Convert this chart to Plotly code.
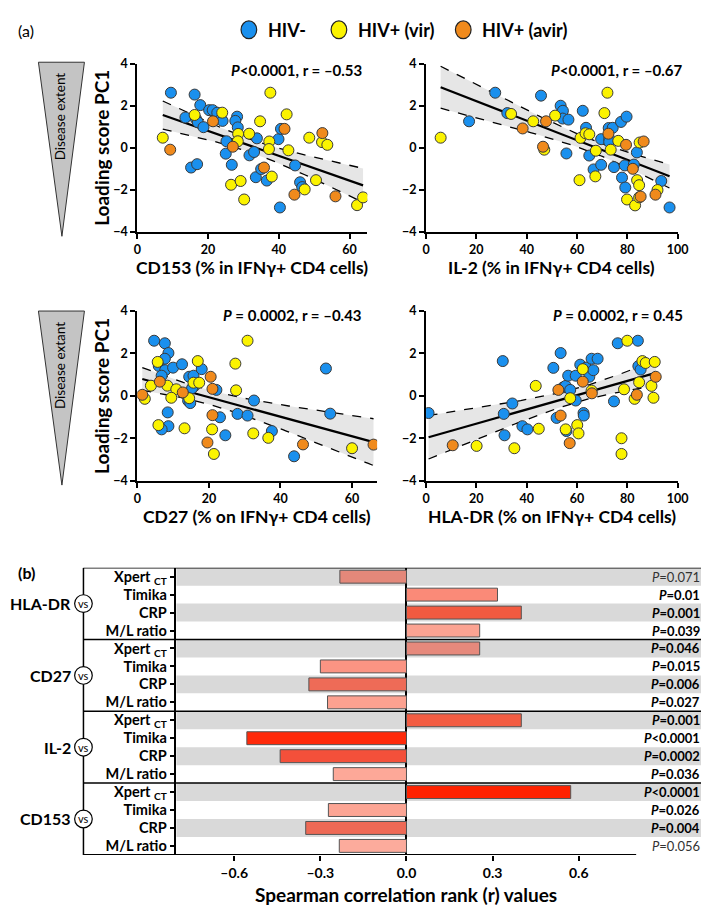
import numpy as np
import plotly.graph_objects as go

# ---------------- DATA ----------------
# Panel 1: CD153 (% in IFNγ+ CD4 cells) vs Loading score PC1
cd153_neg_x = [9.5,16.2,17.8,13.6,16.6,17.1,18.7,20.3,21.3,22.6,23.7,24.1,28.2,27.7,28.4,25.2,25.0,26.7,15.2,16.9,31.7,33.0,33.8,33.5,35.0,36.6,40.3,39.9,40.6,44.6,46.0,46.6]
cd153_neg_y = [2.62,2.53,2.03,1.44,1.37,1.22,0.98,1.79,1.79,1.67,1.37,1.28,1.48,1.28,0.97,0.31,-0.28,-0.81,-0.94,-0.78,-0.36,-0.20,0.45,-1.40,-1.01,-1.56,-2.84,0.41,0.90,-0.84,-1.64,-1.87]
cd153_vir_x = [7.2,16.2,24.0,28.5,28.4,31.6,34.7,37.6,37.3,37.2,38.0,42.2,42.7,26.5,29.2,30.2,47.3,48.6,50.5,52.2,53.7,62.1,63.8]
cd153_vir_y = [0.48,1.56,1.67,0.66,0.31,0.67,1.26,2.62,0.30,-0.06,-1.37,1.59,-0.12,-1.76,-1.58,-2.46,-1.98,0.48,-1.54,0.27,0.14,-2.73,-2.36]
cd153_avir_x = [9.3,21.4,27.0,35.8,41.6,44.4,52.3,56.0]
cd153_avir_y = [-0.09,1.26,0.05,-0.94,0.90,-2.23,0.70,-2.31]

# Panel 2: IL-2 (% in IFNγ+ CD4 cells)
il2_neg_x = [27.5,45.7,17.1,32.3,53.5,54.4,54.3,56.6,62.3,63.6,55.8,64.9,66.6,69.6,69.6,72.6,72.8,72.8,74.2,74.7,77.5,77.9,79.2,79.0,79.7,83.8,82.6,93.5,96.8]
il2_neg_y = [2.62,2.48,1.26,1.65,2.00,1.76,1.39,1.34,1.76,0.95,-0.27,-0.37,-1.03,0.41,-0.81,0.94,0.44,0.28,0.95,-0.92,1.23,-1.42,-1.89,-0.84,1.48,-0.22,-0.80,-1.58,-2.84]
il2_vir_x = [5.8,33.8,42.6,47.0,51.3,61.0,61.4,63.4,64.9,67.3,67.5,70.9,72.1,73.4,76.4,79.9,83.1,83.9,84.7,84.7,84.9,92.0]
il2_vir_y = [0.48,1.61,1.26,-0.09,1.53,-1.54,0.47,0.69,0.64,-1.36,-0.14,1.65,2.62,-0.09,0.33,-2.46,-2.74,-1.54,-1.78,-2.36,0.25,-2.01]
il2_avir_x = [38.4,46.5,47.7,72.5,79.5,82.2,85.3,86.5,91.2]
il2_avir_y = [0.92,0.05,1.26,0.67,0.14,-1.00,-2.32,0.30,-2.23]

# Panel 3: CD27 (% on IFNγ+ CD4 cells)
cd27_neg_x = [4.7,7.7,8.7,7.7,6.0,7.8,10.0,12.5,6.8,14.5,15.7,16.0,15.3,18.0,22.1,14.2,14.8,8.5,8.7,6.8,23.1,24.6,28.0,30.8,32.6,37.6,43.8,52.7,53.9]
cd27_neg_y = [2.60,2.48,2.02,1.75,1.41,1.21,1.33,1.49,0.95,0.90,0.95,0.47,0.36,1.26,0.28,-0.23,-0.34,-0.78,-1.43,-1.58,-1.01,-1.86,-0.85,-0.93,-0.22,-1.66,-2.85,1.29,-0.84]
cd27_vir_x = [3.8,2.1,5.7,8.4,10.9,9.5,5.9,13.2,14.5,15.7,17.3,16.9,27.4,30.8,27.6,20.9,21.4,32.4,36.6,60.0]
cd27_vir_y = [0.48,-0.14,1.60,0.48,0.31,-0.09,-1.38,-1.53,-0.11,0.62,0.62,1.64,1.52,2.60,0.26,-1.58,-2.74,-1.77,-1.98,-2.47]
cd27_avir_x = [1.4,6.3,12.7,20.5,21.0,21.0,19.6,46.3,66.0]
cd27_avir_y = [0.05,0.67,0.16,0.90,0.33,-0.91,-2.20,-2.29,-2.30]

# Panel 4: HLA-DR (% on IFNγ+ CD4 cells)
hla_neg_x = [1.0,30.5,30.9,31.2,34.3,38.3,40.3,50.6,53.5,51.9,54.5,55.5,56.5,57.3,55.8,59.5,59.5,61.3,63.6,62.6,62.7,64.9,65.8,66.5,68.2,74.7,76.2,84.2,84.4,85.3]
hla_neg_y = [-0.81,1.64,-0.85,-1.86,-0.36,-1.43,-1.58,1.32,2.02,-1.04,0.40,0.47,0.95,0.28,-1.66,0.95,-0.22,1.47,1.33,-0.81,-0.93,0.90,1.75,1.21,1.75,-0.26,2.48,2.60,1.40,1.24]
hla_vir_x = [20.1,35.1,43.6,44.8,55.5,57.3,60.1,60.6,62.3,65.8,77.7,77.7,78.7,80.0,82.9,84.7,86.0,87.3,89.6,90.4,90.9]
hla_vir_y = [-2.36,-2.47,0.47,-1.55,-1.58,-0.11,-1.38,-1.77,1.26,0.25,-2.00,-2.74,0.31,2.60,-0.14,0.64,1.64,1.55,0.47,-0.09,1.60]
hla_avir_x = [10.6,52.6,53.5,57.1,62.3,65.9,83.8,91.3]
hla_avir_y = [-2.33,0.28,-0.93,-2.23,0.67,0.12,0.05,0.90]

group_names = ["HIV-", "HIV+ (vir)", "HIV+ (avir)"]
x_titles = ["CD153 (% in IFNγ+ CD4 cells)", "IL-2 (% in IFNγ+ CD4 cells)",
            "CD27 (% on IFNγ+ CD4 cells)", "HLA-DR (% on IFNγ+ CD4 cells)"]
stat_labels = ["<i>P</i>&lt;0.0001, r = –0.53", "<i>P</i>&lt;0.0001, r = –0.67",
               "<i>P</i> = 0.0002, r = –0.43", "<i>P</i> = 0.0002, r = 0.45"]

# Panel (b): Spearman correlations
section_names = ["HLA-DR", "CD27", "IL-2", "CD153"]
row_labels = ["Xpert <sub>CT</sub>", "Timika", "CRP", "M/L ratio"] * 4
r_values = [-0.232, 0.317, 0.40, 0.255,
            0.255, -0.30, -0.34, -0.275,
            0.40, -0.556, -0.44, -0.255,
            0.572, -0.272, -0.351, -0.234]
p_labels = ["=0.071", "=0.01", "=0.001", "=0.039",
            "=0.046", "=0.015", "=0.006", "=0.027",
            "=0.001", "&lt;0.0001", "=0.0002", "=0.036",
            "&lt;0.0001", "=0.026", "=0.004", "=0.056"]
p_significant = [False, True, True, True,
                 True, True, True, True,
                 True, True, True, True,
                 True, True, True, False]
x_tick_vals = [-0.6, -0.3, 0.0, 0.3, 0.6]
x_tick_text = ["–0.6", "–0.3", "0.0", "0.3", "0.6"]

# ---------------- STYLE ----------------
FONT = "Lato"
W, H = 709, 906
group_colors = ["#1a90ee", "#fbf300", "#f08a1c"]
bar_colors = ["#e4887a", "#fa8a78", "#f25a40", "#fba392",
              "#e6897c", "#fb9483", "#ee6b57", "#fca190",
              "#f35c42", "#ff2a0a", "#f4503a", "#fda898",
              "#ff2200", "#fca594", "#ee6955", "#fcab9c"]

def px(x):
    return x / W

def py(y):
    return 1 - y / H

fig = go.Figure()
shapes = []
annots = []

panels = [
    dict(data=[(cd153_neg_x, cd153_neg_y), (cd153_vir_x, cd153_vir_y), (cd153_avir_x, cd153_avir_y)],
         xd=(128, 363), yd=(48.5, 219.5), xr=[0, 65], xt=[0, 20, 40, 60], ann_x=360, ann_y=55),
    dict(data=[(il2_neg_x, il2_neg_y), (il2_vir_x, il2_vir_y), (il2_avir_x, il2_avir_y)],
         xd=(423, 680), yd=(48.5, 219.5), xr=[0, 100], xt=[0, 20, 40, 60, 80, 100], ann_x=688, ann_y=55),
    dict(data=[(cd27_neg_x, cd27_neg_y), (cd27_vir_x, cd27_vir_y), (cd27_avir_x, cd27_avir_y)],
         xd=(128, 373), yd=(300, 472.5), xr=[0, 67], xt=[0, 20, 40, 60], ann_x=360, ann_y=304),
    dict(data=[(hla_neg_x, hla_neg_y), (hla_vir_x, hla_vir_y), (hla_avir_x, hla_avir_y)],
         xd=(423, 680), yd=(300, 472.5), xr=[0, 100], xt=[0, 20, 40, 60, 80, 100], ann_x=688, ann_y=304),
]

T_CRIT = 1.998
layout_axes = {}
for i, p in enumerate(panels):
    k = i + 1
    xa = "x" if k == 1 else f"x{k}"
    ya = "y" if k == 1 else f"y{k}"
    allx = np.concatenate([np.array(d[0], float) for d in p["data"]])
    ally = np.concatenate([np.array(d[1], float) for d in p["data"]])
    n = len(allx)
    slope, icpt = np.polyfit(allx, ally, 1)
    resid = ally - (slope * allx + icpt)
    s = np.sqrt(np.sum(resid ** 2) / (n - 2))
    xm = allx.mean()
    sxx = np.sum((allx - xm) ** 2)
    xs = np.linspace(allx.min(), allx.max(), 80)
    yfit = slope * xs + icpt
    se = s * np.sqrt(1.0 / n + (xs - xm) ** 2 / sxx)
    up = yfit + T_CRIT * se
    lo = yfit - T_CRIT * se
    fig.add_trace(go.Scatter(x=xs, y=up, mode="lines", xaxis=xa, yaxis=ya, showlegend=False,
                             line=dict(color="black", width=1.3, dash="dash"), hoverinfo="skip"))
    fig.add_trace(go.Scatter(x=xs, y=lo, mode="lines", xaxis=xa, yaxis=ya, showlegend=False,
                             fill="tonexty", fillcolor="#e6e6e6",
                             line=dict(color="black", width=1.3, dash="dash"), hoverinfo="skip"))
    fig.add_trace(go.Scatter(x=xs, y=yfit, mode="lines", xaxis=xa, yaxis=ya, showlegend=False,
                             line=dict(color="black", width=2.2), hoverinfo="skip"))
    for g, (gx, gy) in enumerate(p["data"]):
        fig.add_trace(go.Scatter(x=gx, y=gy, mode="markers", xaxis=xa, yaxis=ya, name=group_names[g],
                                 showlegend=False,
                                 marker=dict(size=11, color=group_colors[g],
                                             line=dict(color="#3a3a3a", width=1))))
    axkey_x = "xaxis" if k == 1 else f"xaxis{k}"
    axkey_y = "yaxis" if k == 1 else f"yaxis{k}"
    layout_axes[axkey_x] = dict(domain=[px(p["xd"][0]), px(p["xd"][1])], range=p["xr"], anchor=ya,
                                tickvals=p["xt"], showline=True, linecolor="black", linewidth=2,
                                ticks="outside", ticklen=5, tickwidth=2, tickcolor="black",
                                tickfont=dict(family=FONT, size=12.5, color="black", weight="bold"),
                                showgrid=False, zeroline=False)
    layout_axes[axkey_y] = dict(domain=[py(p["yd"][1]), py(p["yd"][0])], range=[-4, 4], anchor=xa,
                                tickvals=[-4, -2, 0, 2, 4], showline=True, linecolor="black", linewidth=2,
                                ticks="outside", ticklen=5, tickwidth=2, tickcolor="black",
                                tickfont=dict(family=FONT, size=12.5, color="black", weight="bold"),
                                showgrid=False, zeroline=False)
    # x-axis title
    annots.append(dict(x=px((p["xd"][0] + p["xd"][1]) / 2), y=py(p["yd"][1] + 36), xref="paper", yref="paper",
                       text=x_titles[i], showarrow=False, xanchor="center", yanchor="middle",
                       font=dict(family=FONT, size=17.5, color="black", weight="bold")))
    # stats label
    annots.append(dict(x=px(p["ann_x"]), y=py(p["ann_y"]), xref="paper", yref="paper",
                       text=stat_labels[i], showarrow=False, xanchor="right", yanchor="middle",
                       font=dict(family=FONT, size=15, color="black", weight="bold")))
    if k in (1, 3):
        annots.append(dict(x=px(92), y=py((p["yd"][0] + p["yd"][1]) / 2), xref="paper", yref="paper",
                           text="Loading score PC1", textangle=-90, showarrow=False,
                           xanchor="center", yanchor="middle",
                           font=dict(family=FONT, size=19, color="black", weight="bold")))

# Disease extent triangles
for (top, bot, label) in [(47, 224, "Disease extent"), (300, 477, "Disease extant")]:
    shapes.append(dict(type="path", xref="paper", yref="paper",
                       path=f"M {px(27)},{py(top)} L {px(74)},{py(top)} L {px(51)},{py(bot)} Z",
                       fillcolor="#c4c4c4", line=dict(color="#333", width=1)))
    annots.append(dict(x=px(49), y=py(top + 55), xref="paper", yref="paper", text=label,
                       textangle=-90, showarrow=False, xanchor="center", yanchor="middle",
                       font=dict(family=FONT, size=13.5, color="black")))

# Legend (drawn manually)
for (cx, tx, g) in [(242, 259, 0), (334, 351, 1), (461, 478, 2)]:
    shapes.append(dict(type="circle", xref="paper", yref="paper",
                       x0=px(cx - 8), x1=px(cx + 8), y0=py(14 + 9), y1=py(14 - 9),
                       fillcolor=group_colors[g], line=dict(color="#222", width=1.2)))
    annots.append(dict(x=px(tx), y=py(14), xref="paper", yref="paper", text=group_names[g],
                       showarrow=False, xanchor="left", yanchor="middle",
                       font=dict(family=FONT, size=18, color="black", weight="bold")))

annots.append(dict(x=px(4), y=py(15), xref="paper", yref="paper", text="(a)", showarrow=False,
                   xanchor="left", yanchor="middle", font=dict(family=FONT, size=16, color="black")))
annots.append(dict(x=px(4), y=py(566), xref="paper", yref="paper", text="(b)", showarrow=False,
                   xanchor="left", yanchor="middle",
                   font=dict(family=FONT, size=16, color="black", weight="bold")))

# ---------------- Panel (b) ----------------
B_TOP, B_BOT = 561, 853
B_LEFT, B_RIGHT = 168, 708
ZERO_PX, UNIT_PX = 403, 293.3
n_rows = len(r_values)
rows = list(range(n_rows))
row_h = (B_BOT - B_TOP) / n_rows

fig.add_trace(go.Bar(x=r_values, y=rows, orientation="h", xaxis="x5", yaxis="y5", width=0.72,
                     marker=dict(color=bar_colors, line=dict(color="#555", width=1)),
                     showlegend=False))

layout_axes["xaxis5"] = dict(domain=[px(B_LEFT), px(B_RIGHT)],
                             range=[(B_LEFT - ZERO_PX) / UNIT_PX, (B_RIGHT - ZERO_PX) / UNIT_PX],
                             anchor="y5", tickvals=x_tick_vals, ticktext=x_tick_text,
                             ticks="outside", ticklen=5, tickwidth=1.5, tickcolor="black",
                             showline=False, showgrid=False, zeroline=True, zerolinecolor="black",
                             zerolinewidth=1.5,
                             tickfont=dict(family=FONT, size=14, color="black", weight="bold"))
layout_axes["yaxis5"] = dict(domain=[py(B_BOT), py(B_TOP)], range=[n_rows - 0.5, -0.5], anchor="x5",
                             tickvals=rows, ticktext=row_labels, ticks="outside", ticklen=5,
                             tickwidth=1.5, tickcolor="black", showline=True, linecolor="black",
                             linewidth=1.5, showgrid=False, zeroline=False,
                             tickfont=dict(family=FONT, size=14.5, color="black", weight="bold"))

for i in rows:
    if i % 2 == 0:
        shapes.append(dict(type="rect", xref="paper", yref="y5", x0=px(B_LEFT), x1=px(B_RIGHT),
                           y0=i - 0.5, y1=i + 0.5, fillcolor="#d9d9d9", line=dict(width=0),
                           layer="below"))
# separators and frame
for yb in [-0.5, 3.5, 7.5, 11.5]:
    shapes.append(dict(type="line", xref="paper", yref="y5", x0=px(73), x1=px(B_RIGHT), y0=yb, y1=yb,
                       line=dict(color="black", width=1.5)))
shapes.append(dict(type="line", xref="paper", yref="y5", x0=px(73), x1=px(ZERO_PX + 0.8 * UNIT_PX),
                   y0=n_rows - 0.5, y1=n_rows - 0.5, line=dict(color="black", width=1.8)))
shapes.append(dict(type="line", xref="paper", yref="y5", x0=px(73), x1=px(73), y0=-0.5,
                   y1=n_rows - 0.5, line=dict(color="black", width=1.5)))

# section labels with "vs" circles
for s_i, name in enumerate(section_names):
    yc_px = B_TOP + (4 * s_i + 2) * row_h
    annots.append(dict(x=px(62), y=py(yc_px), xref="paper", yref="paper", text=name, showarrow=False,
                       xanchor="right", yanchor="middle",
                       font=dict(family=FONT, size=16, color="black", weight="bold")))
    shapes.append(dict(type="circle", xref="paper", yref="paper", x0=px(73 - 9), x1=px(73 + 9),
                       y0=py(yc_px + 9), y1=py(yc_px - 9), fillcolor="white",
                       line=dict(color="black", width=1.2)))
    annots.append(dict(x=px(73), y=py(yc_px), xref="paper", yref="paper", text="vs", showarrow=False,
                       xanchor="center", yanchor="middle",
                       font=dict(family=FONT, size=11, color="black")))

# P values
for i in rows:
    annots.append(dict(x=px(705), y=i, xref="paper", yref="y5", text=f"<i>P</i>{p_labels[i]}",
                       showarrow=False, xanchor="right", yanchor="middle",
                       font=dict(family=FONT, size=13, color="black" if p_significant[i] else "#333",
                                 weight="bold" if p_significant[i] else "normal")))

annots.append(dict(x=px(ZERO_PX), y=py(893), xref="paper", yref="paper",
                   text="Spearman correlation rank (r) values", showarrow=False,
                   xanchor="center", yanchor="middle",
                   font=dict(family=FONT, size=19, color="black", weight="bold")))

fig.update_layout(width=W, height=H, margin=dict(l=0, r=0, t=0, b=0),
                  paper_bgcolor="white", plot_bgcolor="rgba(0,0,0,0)",
                  font=dict(family=FONT, color="black"), showlegend=False,
                  bargap=0.28, shapes=shapes, annotations=annots, **layout_axes)

fig.write_html("out.html")
